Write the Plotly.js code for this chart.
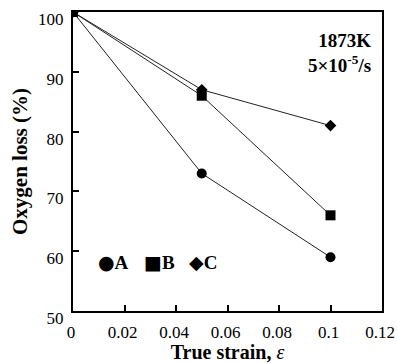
<!DOCTYPE html>
<html><head><meta charset="utf-8">
<script src="https://cdn.plot.ly/plotly-3.0.1.min.js"></script>
<style>body{margin:0;background:#fff}#c{width:397px;height:363px}</style>
</head><body><div id="c"></div>
<script>
const strain = [0, 0.05, 0.1];
const seriesA = [100, 73, 59];
const seriesB = [100, 86, 66];
const seriesC = [100, 87, 81];
const names = ['A', 'B', 'C'];
const symbols = ['circle', 'square', 'diamond'];
const glyphs = ['●', '■', '◆'];
const sizes = [10, 10, 9];
const xTicks = [0, 0.02, 0.04, 0.06, 0.08, 0.1, 0.12];
const yTicks = [50, 60, 70, 80, 90, 100];

const all = [seriesA, seriesB, seriesC];
const traces = all.map((ys, i) => ({
  x: strain, y: ys, mode: 'lines+markers', name: names[i], showlegend: false,
  line: {color: '#222', width: 1},
  marker: {symbol: symbols[i], size: sizes[i], color: '#000'}
}));

const legendX = [0.075, 0.222, 0.368];
const legendAnn = names.map((n, i) => ({
  xref: 'paper', yref: 'paper', x: legendX[i], y: 0.164, xanchor: 'left', yanchor: 'middle',
  showarrow: false,
  text: '<span style="font-family:DejaVu Sans">' + glyphs[i] + '</span><b>' + n + '</b>',
  font: {size: 19}
}));

const font = {family: 'Liberation Serif, Times New Roman, serif', color: '#000'};
Plotly.newPlot('c', traces, {
  width: 397, height: 363,
  margin: {l: 73, r: 15, t: 12, b: 52},
  paper_bgcolor: '#fff', plot_bgcolor: '#fff',
  font: Object.assign({size: 17}, font),
  showlegend: false,
  xaxis: {range: [0, 0.12], tickvals: xTicks, ticktext: xTicks.map(String),
    ticks: 'inside', ticklen: 6, tickwidth: 1.5, tickcolor: '#000',
    showline: true, linewidth: 2, linecolor: '#000', mirror: true,
    showgrid: false, zeroline: false, tickfont: {size: 17},
    ticklabelstandoff: 5, ticklabelshift: -2,
    title: {text: '<b>True strain, </b><i>ε</i>', font: {size: 20}, standoff: 5}},
  yaxis: {range: [50, 100], tickvals: yTicks,
    ticks: 'inside', ticklen: 6, tickwidth: 1.5, tickcolor: '#000',
    showline: true, linewidth: 2, linecolor: '#000', mirror: true,
    showgrid: false, zeroline: false, tickfont: {size: 17},
    ticklabelstandoff: 4, ticklabelshift: 7,
    title: {text: '<b>Oxygen loss (%)</b>', font: {size: 21}, standoff: 5}},
  annotations: [
    {xref: 'paper', yref: 'paper', x: 0.97, y: 0.945, xanchor: 'right', yanchor: 'top', align: 'right',
     showarrow: false, text: '<b>1873K</b><br><b>5×10<sup>-5</sup>/s</b>', font: {size: 19}}
  ].concat(legendAnn)
}, {displayModeBar: false});
</script></body></html>
